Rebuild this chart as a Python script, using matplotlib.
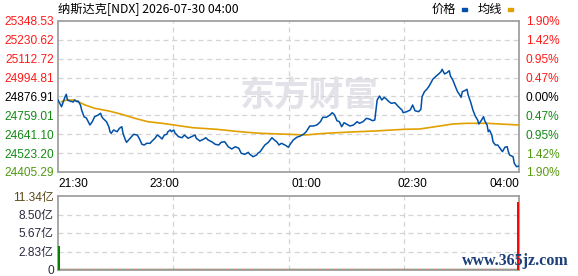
import matplotlib
matplotlib.use("Agg")
import matplotlib.pyplot as plt
from matplotlib.patches import Rectangle

plt.rcParams['font.family'] = ['Liberation Sans', 'Noto Sans CJK SC', 'DejaVu Sans']

# ---------------- data ----------------
title = "纳斯达克[NDX] 2026-07-30 04:00"
prev_close = 24876.91
price_levels = [25348.53, 25230.62, 25112.72, 24994.81, 24876.91,
                24759.01, 24641.10, 24523.20, 24405.29]
pct_labels = ["1.90%", "1.42%", "0.95%", "0.47%", "0.00%",
              "0.47%", "0.95%", "1.42%", "1.90%"]
time_labels = ["21:30", "23:00", "01:00", "02:30", "04:00"]
time_label_min = [0, 90, 210, 300, 390]
total_minutes = 390

price_min = [0, 3, 6, 7, 8, 10, 13, 14, 16, 17, 19, 20, 22, 24, 27, 29, 31, 34, 36, 37,
             38, 41, 43, 44, 45, 47, 50, 52, 54, 55, 57, 58, 61, 64, 67, 69, 71, 73, 75, 78,
             79, 82, 84, 86, 88, 90, 92, 93, 95, 96, 98, 99, 102, 105, 107, 110, 113, 116, 117, 120,
             123, 125, 127, 130, 133, 136, 138, 141, 144, 147, 150, 153, 155, 158, 161, 162, 165, 168, 169, 171,
             173, 175, 178, 181, 183, 185, 187, 189, 192, 195, 196, 199, 202, 205, 208, 210, 213, 216, 219, 222,
             224, 227, 230, 232, 234, 236, 238, 240, 242, 244, 247, 250, 253, 255, 258, 261, 264, 266, 268, 269,
             270, 272, 274, 276, 278, 280, 282, 285, 288, 291, 292, 295, 298, 300, 302, 305, 307, 308, 310, 312,
             314, 316, 317, 320, 322, 324, 325, 327, 329, 331, 332, 334, 336, 338, 339, 341, 342, 344, 346, 347,
             349, 351, 353, 355, 356, 358, 360, 361, 363, 364, 365, 367, 368, 370, 372, 374, 376, 378, 380, 381,
             382, 385, 386, 388, 390]
price_val = [24855.0, 24813.2, 24875.7, 24890.6, 24855.0, 24848.8, 24842.5, 24855.0, 24844.4, 24848.8,
             24823.8, 24792.6, 24750.7, 24742.6, 24698.9, 24719.5, 24750.7, 24761.3, 24772.0, 24750.7,
             24740.7, 24719.5, 24688.3, 24657.0, 24647.0, 24667.6, 24657.0, 24678.3, 24688.3, 24647.0,
             24605.2, 24590.8, 24615.8, 24640.8, 24636.4, 24611.4, 24578.3, 24573.9, 24584.6, 24584.6,
             24594.5, 24615.8, 24636.4, 24625.8, 24611.4, 24636.4, 24640.8, 24657.0, 24667.6, 24657.0,
             24667.6, 24648.9, 24625.8, 24619.5, 24636.4, 24615.8, 24625.8, 24636.4, 24615.8, 24598.9,
             24609.5, 24619.5, 24605.2, 24594.5, 24578.3, 24573.9, 24590.8, 24594.5, 24563.3, 24549.0,
             24563.3, 24553.3, 24522.1, 24515.8, 24528.3, 24517.7, 24500.9, 24511.5, 24522.1, 24532.1,
             24553.3, 24573.9, 24590.8, 24619.5, 24605.2, 24594.5, 24573.9, 24584.6, 24573.9, 24559.6,
             24573.9, 24605.2, 24622.0, 24630.2, 24642.7, 24657.0, 24692.6, 24692.6, 24698.9, 24719.5,
             24747.0, 24747.0, 24761.3, 24775.7, 24761.3, 24725.7, 24719.5, 24688.3, 24713.2, 24705.1,
             24692.6, 24698.9, 24719.5, 24709.5, 24719.5, 24740.7, 24734.5, 24725.7, 24730.1, 24792.6,
             24855.0, 24880.0, 24855.0, 24871.9, 24859.4, 24844.4, 24834.4, 24838.2, 24813.2, 24792.6,
             24775.7, 24782.0, 24792.6, 24823.8, 24788.2, 24782.0, 24797.0, 24875.7, 24906.9, 24921.9,
             24942.5, 24969.4, 24984.3, 25005.0, 25017.5, 25031.8, 25046.8, 25017.5, 25025.6, 25038.1,
             25005.0, 24980.0, 24942.5, 24906.9, 24896.9, 24871.9, 24906.9, 24913.1, 24921.9, 24886.3,
             24844.4, 24792.6, 24755.1, 24730.1, 24705.1, 24725.7, 24750.7, 24725.7, 24698.9, 24657.0,
             24667.6, 24636.4, 24594.5, 24573.9, 24573.9, 24553.3, 24532.1, 24559.6, 24563.3, 24532.1,
             24511.5, 24500.9, 24459.6, 24438.4, 24442.9]

avg_min = [3, 7, 14, 23, 31, 43, 54, 65, 76, 88, 98, 114, 134, 154, 171, 195, 209, 226,
           248, 268, 293, 306, 323, 334, 346, 363, 374, 390]
avg_val = [24844.4, 24855.0, 24855.0, 24823.8, 24803.2, 24786.3, 24765.7, 24740.7, 24719.5,
           24709.5, 24698.9, 24682.0, 24672.0, 24657.0, 24647.0, 24640.8, 24636.4, 24647.0,
           24655.2, 24661.4, 24672.0, 24673.9, 24692.6, 24705.1, 24709.5, 24709.5, 24705.1, 24698.9]

vol_levels = [0, 2.83, 5.67, 8.50, 11.34]
vol_labels = ["0", "2.83亿", "5.67亿", "8.50亿", "11.34亿"]
vol_min = [1, 389]
vol_val = [3.68, 10.42]
vol_colors = ["#008000", "#ff0000"]

# ---------------- style ----------------
W, H = 578, 276
fig = plt.figure(figsize=(W / 100, H / 100), dpi=100)

def fx(px):
    return px / W

def fy(py):
    return 1 - py / H

L, R = 58, 519
ax = fig.add_axes([fx(L), fy(172), fx(R - L), (172 - 21) / H])
axv = fig.add_axes([fx(L), fy(270), fx(R - L), (270 - 196) / H])

spine_c = "#a0a0a0"
grid_c = "#d4d4d4"
up_c = "#ff1a1a"
dn_c = "#138a13"
fs = 8.6

for a in (ax, axv):
    for s in a.spines.values():
        s.set_color(spine_c)
        s.set_linewidth(1.3)
    a.tick_params(length=0)
    a.set_xlim(0, total_minutes)
    quarters = [total_minutes * k / 4 for k in (1, 2, 3)]
    for q in quarters:
        a.axvline(q, color=grid_c, lw=0.9, ls=(0, (4, 3)), zorder=0)

# watermark
ax.text(0.545, 0.51, "东方财富", transform=ax.transAxes, ha="center", va="center",
        fontsize=25, fontweight="bold", color="#e2e2e8", family=["Noto Sans CJK SC"],
        zorder=0)

ax.set_ylim(price_levels[-1], price_levels[0])
ax.set_yticks(price_levels)
ax.set_yticklabels([f"{v:.2f}" for v in price_levels], fontsize=fs)
for lab, v in zip(ax.get_yticklabels(), price_levels):
    if v > prev_close + 1:
        lab.set_color(up_c)
    elif v < prev_close - 1:
        lab.set_color(dn_c)
    else:
        lab.set_color("#000000")
ax.get_yticklabels()[-1].set_color("#4f9a10")
for v in price_levels[1:-1]:
    ax.axhline(v, color=grid_c, lw=0.9, ls=(0, (4, 3)), zorder=0)
ax.tick_params(axis="y", pad=3)

ax.set_xticks(time_label_min)
ax.set_xticklabels(time_labels, fontsize=fs)
xl = ax.get_xticklabels()
xl[0].set_ha("left")
xl[-1].set_ha("right")
ax.tick_params(axis="x", pad=4)

ax2 = ax.twinx()
ax2.set_ylim(ax.get_ylim())
ax2.set_yticks(price_levels)
ax2.set_yticklabels(pct_labels, fontsize=fs)
ax2.tick_params(length=0, pad=5)
for s in ax2.spines.values():
    s.set_visible(False)
for lab, v in zip(ax2.get_yticklabels(), price_levels):
    if v > prev_close + 1:
        lab.set_color(up_c)
    elif v < prev_close - 1:
        lab.set_color(dn_c)
    else:
        lab.set_color("#000000")
ax2.get_yticklabels()[-1].set_color("#5c9a10")
ax2.get_yticklabels()[-2].set_color("#4f9a10")

ax.plot(avg_min, avg_val, color="#e0a000", lw=1.2, zorder=3)
ax.plot(price_min, price_val, color="#0050a8", lw=1.1, zorder=4)

# volume
axv.set_ylim(0, vol_levels[-1])
axv.set_yticks(vol_levels)
axv.set_yticklabels(vol_labels, fontsize=fs)
for lab in axv.get_yticklabels():
    lab.set_color("#2a2a40")
axv.get_yticklabels()[-1].set_color("#5a4818")
axv.tick_params(axis="y", pad=3)
axv.set_xticks([])
for v in vol_levels[1:-1]:
    axv.axhline(v, color=grid_c, lw=0.9, ls=(0, (4, 3)), zorder=0)
axv.axhline(0.08, color="#ff0000", lw=1.0, ls=(0, (3, 3)), zorder=2)
axv.axhline(0.08, color="#008000", lw=1.0, ls=(3, (3, 3)), zorder=2)
axv.vlines(vol_min, 0, vol_val, colors=vol_colors, lw=1.4, zorder=3)

# title and legend
fig.text(fx(58), fy(9), title, ha="left", va="center", fontsize=8.8,
         family=["Noto Sans CJK SC", "DejaVu Sans"], color="#000000")
fig.text(fx(432), fy(9), "价格", ha="left", va="center", fontsize=8.8,
         family=["Noto Sans CJK SC"], color="#000000")
fig.patches.append(Rectangle((fx(462), fy(11)), fx(5), 3 / H, transform=fig.transFigure,
                             color="#0050a8"))
fig.text(fx(478), fy(9), "均线", ha="left", va="center", fontsize=8.8,
         family=["Noto Sans CJK SC"], color="#000000")
fig.patches.append(Rectangle((fx(508), fy(11)), fx(5), 3 / H, transform=fig.transFigure,
                             color="#e0a000"))

fig.text(fx(569), fy(261), "www.365jz.com", ha="right", va="center", fontsize=11.5,
         family=["Liberation Serif"], fontweight="bold", color="#1c3f7a")

fig.savefig("out.png", dpi=100)
